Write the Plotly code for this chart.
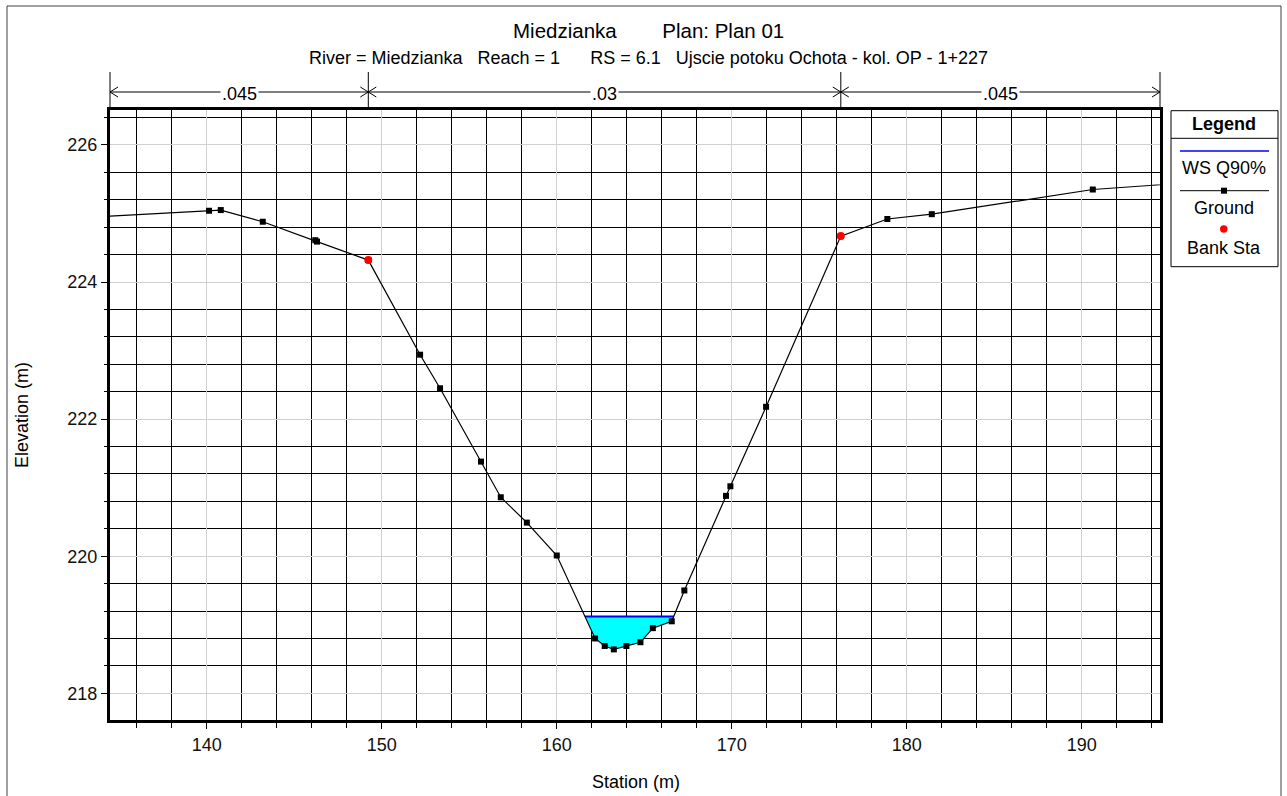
import numpy as np
import plotly.graph_objects as go

# ---------------- data ----------------
station = [130.0, 140.13, 140.8, 143.2, 146.2, 146.3, 149.23, 152.19, 153.33, 155.67,
           156.8, 158.29, 160.0, 162.19, 162.74, 163.26, 163.98, 164.78, 165.49, 166.57,
           167.29, 169.67, 169.92, 171.96, 176.23, 178.89, 181.43, 190.63, 200.0]
elevation = [224.90, 225.04, 225.05, 224.88, 224.61, 224.59, 224.32, 222.94, 222.45, 221.38,
             220.86, 220.49, 220.01, 218.80, 218.69, 218.64, 218.69, 218.745, 218.95, 219.05,
             219.50, 220.88, 221.02, 222.18, 224.67, 224.92, 224.99, 225.35, 225.52]
bank_sta = [149.23, 176.23]
bank_elev = [224.32, 224.67]
ws_elev = 219.12
n_values = [".045", ".03", ".045"]
legend_items = ["WS Q90%", "Ground", "Bank Sta"]

title_text = "Miedzianka" + "\u00a0" * 8 + "Plan: Plan 01"
subtitle_text = ("River = Miedzianka" + "\u00a0" * 3 + "Reach = 1" + "\u00a0" * 6 +
                 "RS = 6.1" + "\u00a0" * 3 + "Ujscie potoku Ochota - kol. OP - 1+227")

# ---------------- geometry ----------------
W_FIG, H_FIG = 1287, 796
L, R, T, B = 110, 1160, 110, 720
PW, PH = R - L, B - T
x_range = [134.47, 194.47]
y_range = [217.61, 226.51]
FONT = "Arial, Liberation Sans, sans-serif"


def px(x):
    return (x - L) / PW


def py(y):
    return (B - y) / PH


def sx(s):
    return (s - x_range[0]) / (x_range[1] - x_range[0])


# ---------------- water polygon ----------------
st = np.array(station)
el = np.array(elevation)
imin = int(np.argmin(el))
i = imin
while el[i] < ws_elev:
    i -= 1
xl = st[i] + (ws_elev - el[i]) * (st[i + 1] - st[i]) / (el[i + 1] - el[i])
j = imin
while el[j] < ws_elev:
    j += 1
xr = st[j - 1] + (ws_elev - el[j - 1]) * (st[j] - st[j - 1]) / (el[j] - el[j - 1])
poly_x = [xl] + list(st[i + 1:j]) + [xr]
poly_y = [ws_elev] + list(el[i + 1:j]) + [ws_elev]

fig = go.Figure()
fig.add_trace(go.Scatter(x=poly_x, y=poly_y, fill="toself", fillcolor="#00ffff",
                         line=dict(width=0), mode="lines", hoverinfo="skip", showlegend=False))
fig.add_trace(go.Scatter(x=[xl, xr], y=[ws_elev, ws_elev], mode="lines",
                         line=dict(color="#0000ff", width=2), name=legend_items[0], showlegend=False))
fig.add_trace(go.Scatter(x=station, y=elevation, mode="lines+markers",
                         line=dict(color="black", width=1.2),
                         marker=dict(symbol="square", size=6, color="black"),
                         name=legend_items[1], showlegend=False))
fig.add_trace(go.Scatter(x=bank_sta, y=bank_elev, mode="markers",
                         marker=dict(symbol="circle", size=8, color="#ff0000"),
                         name=legend_items[2], showlegend=False))

shapes = []
annotations = []

# outer frame
shapes.append(dict(type="rect", xref="paper", yref="paper", x0=px(7), x1=px(1281), y0=py(6), y1=py(805),
                   line=dict(color="#404040", width=1), layer="below"))

# n-value bar
y_bar = 92
edges = [x_range[0]] + bank_sta + [x_range[1]]
for e in edges:
    shapes.append(dict(type="line", xref="paper", yref="paper", x0=sx(e), x1=sx(e),
                       y0=py(72), y1=py(T), line=dict(color="black", width=1)))
for k, nv in enumerate(n_values):
    a, b = sx(edges[k]), sx(edges[k + 1])
    shapes.append(dict(type="line", xref="paper", yref="paper", x0=a, x1=b, y0=py(y_bar), y1=py(y_bar),
                       line=dict(color="black", width=1)))
    dx = 8 / PW
    p1 = f"M {a + dx},{py(y_bar - 5)} L {a},{py(y_bar)} L {a + dx},{py(y_bar + 5)}"
    p2 = f"M {b - dx},{py(y_bar - 5)} L {b},{py(y_bar)} L {b - dx},{py(y_bar + 5)}"
    for p in (p1, p2):
        shapes.append(dict(type="path", xref="paper", yref="paper", path=p,
                           line=dict(color="black", width=1)))
    annotations.append(dict(x=(a + b) / 2, y=py(y_bar + 2), xref="paper", yref="paper", text=nv,
                            showarrow=False, bgcolor="white", font=dict(size=18, color="black", family=FONT),
                            xanchor="center", yanchor="middle", borderpad=1))

# titles
annotations.append(dict(x=px(648), y=py(30), xref="paper", yref="paper", text=title_text, showarrow=False,
                        font=dict(size=20.5, color="black", family=FONT), xanchor="center", yanchor="middle"))
annotations.append(dict(x=px(648), y=py(58), xref="paper", yref="paper", text=subtitle_text, showarrow=False,
                        font=dict(size=18, color="black", family=FONT), xanchor="center", yanchor="middle"))
annotations.append(dict(x=px(636), y=py(782), xref="paper", yref="paper", text="Station (m)", showarrow=False,
                        font=dict(size=18, color="black", family=FONT), xanchor="center", yanchor="middle"))
annotations.append(dict(x=px(22), y=py(415), xref="paper", yref="paper", text="Elevation (m)", showarrow=False,
                        textangle=-90, font=dict(size=18, color="black", family=FONT),
                        xanchor="center", yanchor="middle"))

# custom legend
lx0, lx1, ly0, ly1 = 1171, 1278, 110.7, 266.7
shapes.append(dict(type="rect", xref="paper", yref="paper", x0=px(lx0), x1=px(lx1), y0=py(ly0), y1=py(ly1),
                   line=dict(color="black", width=1), fillcolor="white"))
shapes.append(dict(type="line", xref="paper", yref="paper", x0=px(lx0), x1=px(lx1), y0=py(138.3), y1=py(138.3),
                   line=dict(color="black", width=1)))
annotations.append(dict(x=px(1224), y=py(124), xref="paper", yref="paper", text="<b>Legend</b>", showarrow=False,
                        font=dict(size=18, color="black", family=FONT), xanchor="center", yanchor="middle"))
shapes.append(dict(type="line", xref="paper", yref="paper", x0=px(1180), x1=px(1269), y0=py(151), y1=py(151),
                   line=dict(color="#0000ff", width=1.5)))
shapes.append(dict(type="line", xref="paper", yref="paper", x0=px(1180), x1=px(1269), y0=py(190.7), y1=py(190.7),
                   line=dict(color="black", width=1)))
shapes.append(dict(type="rect", xref="paper", yref="paper", x0=px(1221), x1=px(1227), y0=py(187.7), y1=py(193.7),
                   line=dict(width=0), fillcolor="black"))
shapes.append(dict(type="circle", xref="paper", yref="paper", x0=px(1220), x1=px(1227.5), y0=py(225.3),
                   y1=py(232.8), line=dict(width=0), fillcolor="#ff0000"))
for txt, yy in zip(legend_items, [168.3, 208.3, 248.3]):
    annotations.append(dict(x=px(1224), y=py(yy), xref="paper", yref="paper", text=txt, showarrow=False,
                            font=dict(size=18, color="black", family=FONT), xanchor="center", yanchor="middle"))

axis_common = dict(showline=True, linecolor="black", linewidth=3, mirror=True, ticks="outside",
                   ticklen=6, tickcolor="black", tickwidth=1, showgrid=True, gridcolor="#d0d0d0",
                   gridwidth=1, zeroline=False, tickfont=dict(size=18, color="#111", family=FONT))

fig.update_xaxes(range=x_range, dtick=10, tick0=0,
                 minor=dict(dtick=2, tick0=0, showgrid=True, gridcolor="black", gridwidth=1,
                            ticks="outside", ticklen=5, tickcolor="black"),
                 **axis_common)
fig.update_yaxes(range=y_range, dtick=2, tick0=0,
                 minor=dict(dtick=0.4, tick0=0, showgrid=True, gridcolor="black", gridwidth=1,
                            ticks="outside", ticklen=3, tickcolor="black"),
                 **axis_common)

fig.update_layout(width=W_FIG, height=H_FIG, margin=dict(l=L, r=W_FIG - R, t=T, b=H_FIG - B),
                  paper_bgcolor="white", plot_bgcolor="white", showlegend=False,
                  shapes=shapes, annotations=annotations, font=dict(family=FONT, color="black"))

fig.write_html("out.html")
